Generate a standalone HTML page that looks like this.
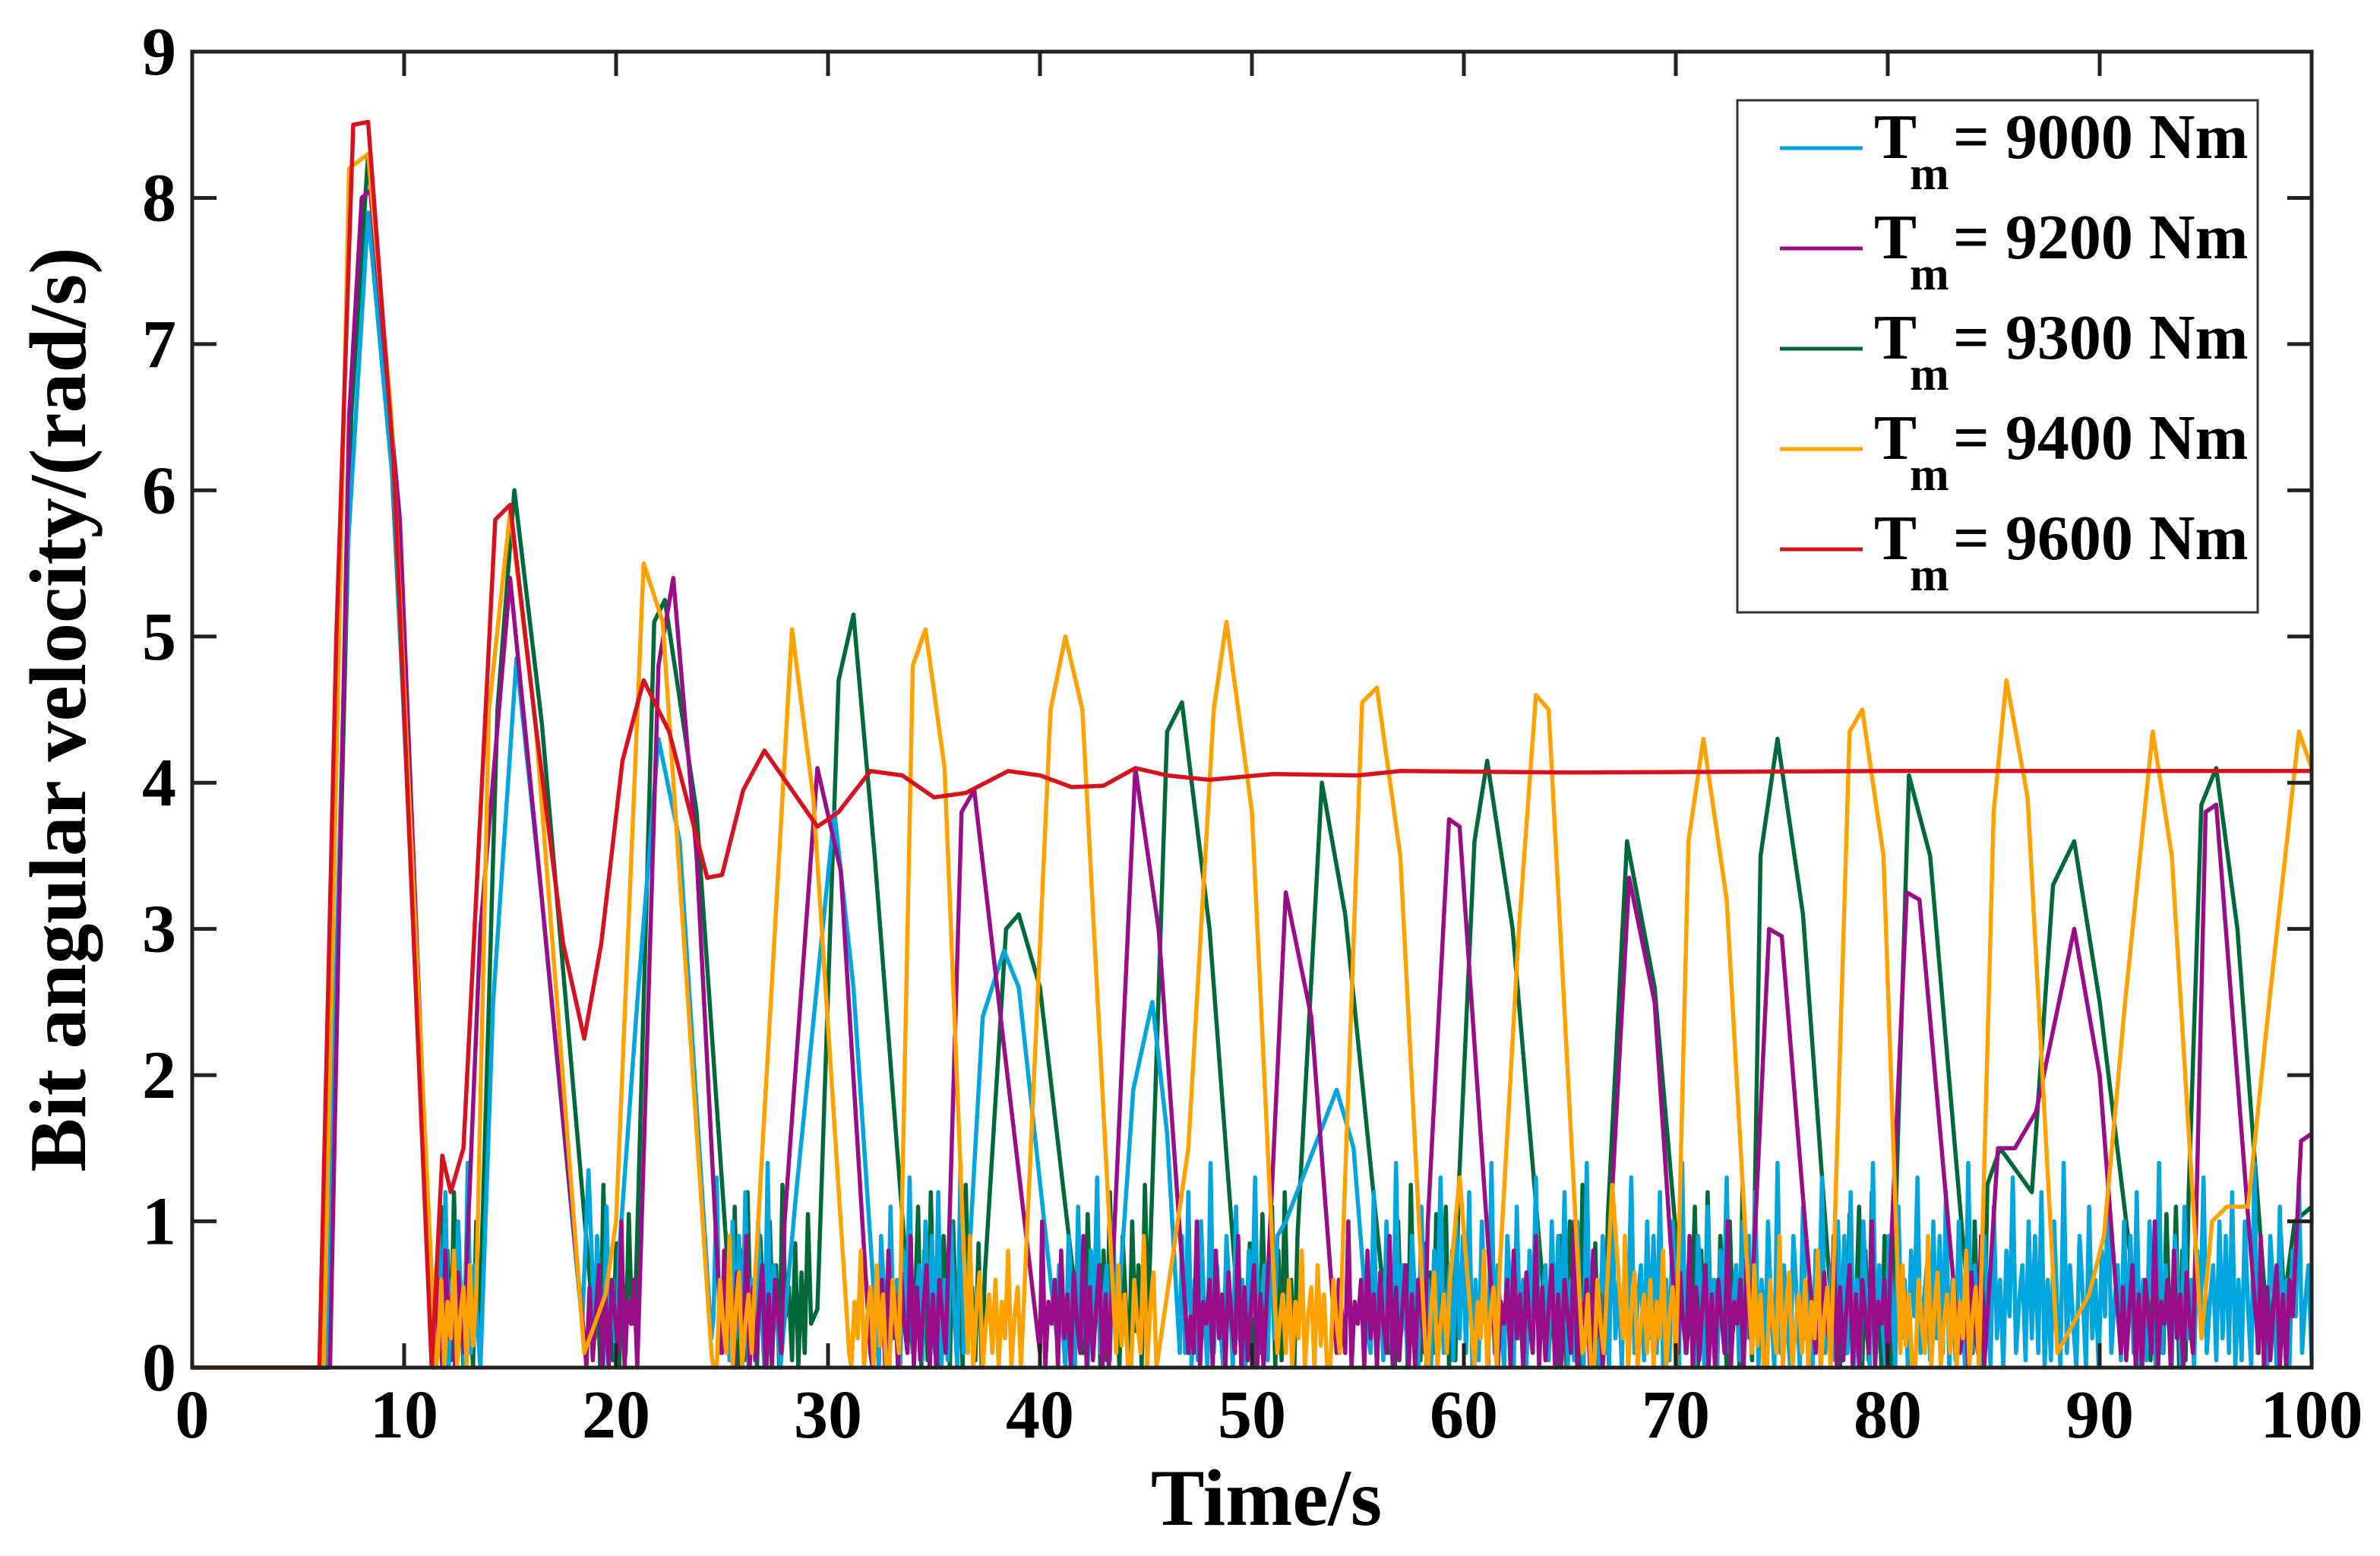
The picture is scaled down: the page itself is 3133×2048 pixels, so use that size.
<!DOCTYPE html>
<html><head><meta charset="utf-8"><style>
html,body{margin:0;padding:0;background:#fff;}
svg{display:block;}
text{font-family:"Liberation Serif",serif;font-weight:bold;fill:#000;}
</style></head><body>
<svg id="chart" width="3133" height="2048" viewBox="0 0 3133 2048" xmlns="http://www.w3.org/2000/svg">
<rect x="0" y="0" width="3133" height="2048" fill="#fff"/>
<g id="series"></g>
<g id="axes"></g>
<g id="legend"></g>
</svg>
<script>
// ---- data ----
const xTicks = [0,10,20,30,40,50,60,70,80,90,100];
const yTicks = [0,1,2,3,4,5,6,7,8,9];
const seriesLabels = ["9000","9200","9300","9400","9600"];
const seriesColors = ["#00a6dd","#9a0d88","#00693a","#ffa200","#d8111f"];
// breakpoints [t, value]; "N" segments are filled from that series' noise array
const cyanPts = [[0,0],[6.3,0],[7.3,5.5],[8.3,7.9],[9.5,6.0],[11.4,0],"N11.5-13.6",[14.2,2.5],[15.3,4.85],[16.5,3.2],[18.4,0.3],[18.7,1.35],[19.0,0.2],"N19.1-20.2",[21.0,2.5],[22.0,4.3],[23.0,3.6],[24.5,0.2],"N24.6-27.8",[28.5,1.2],[30.3,3.8],[31.2,2.6],[32.4,0],"N32.5-36.4",[37.3,2.4],[38.3,2.85],[39.0,2.6],[40.8,0.2],"N40.9-43.6",[44.4,1.9],[45.3,2.5],[46.0,1.6],[46.6,0.1],"N46.7-51.2",[51.6,1.0],[54.0,1.9],[54.8,1.5],[55.5,0.2],"N55.6-100"];
const magentaPts = [[0,0],[6.5,0],[7.4,6.5],[8.0,8.0],[8.4,8.05],[9.8,5.8],[11.4,0],"N11.5-13.0",[13.6,3.0],[15.0,5.4],[16.3,3.5],[18.5,0.2],"N18.6-21.0",[22.0,4.8],[22.7,5.4],[23.8,3.5],[25.0,0.1],"N25.1-28.0",[29.5,4.1],[30.6,3.4],[32.0,0.1],"N32.1-35.6",[36.3,3.8],[36.9,3.95],[38.3,2.2],[40.0,0.1],"N40.1-43.4",[44.5,4.1],[45.6,3.0],[47.0,0.1],"N47.1-50.6",[51.6,3.25],[52.8,2.4],[54.0,0.1],"N54.1-58.4",[59.3,3.75],[59.8,3.7],[61.5,0.1],"N61.6-66.6",[67.8,3.35],[69.0,2.5],[70.1,0.1],"N70.2-73.6",[74.4,3.0],[75.0,2.95],[76.6,0.1],"N76.7-80.2",[80.9,3.25],[81.5,3.2],[83.4,0.1],"N83.5-84.6",[85.2,1.5],[86.0,1.5],[87.0,1.75],[88.8,3.0],[90.0,2.0],[91.0,0.1],"N91.1-94.4",[95.0,3.8],[95.5,3.85],[97.5,0.1],"N97.6-99.2",[99.5,1.55],[100,1.6]];
const greenPts = [[0,0],[6.4,0],[7.5,6.5],[8.3,8.3],[9.3,6.5],[11.5,0],"N11.6-13.6",[14.4,4.5],[15.2,6.0],[16.5,4.4],[19.0,0.2],"N19.1-21.0",[21.8,5.1],[22.3,5.25],[23.8,3.8],[25.5,0.2],"N25.6-29.2",[29.5,0.4],[30.5,4.7],[31.2,5.15],[32.2,3.5],[34.0,0.1],"N34.1-37.4",[38.4,3.0],[39.0,3.1],[40.0,2.6],[42.0,0.1],"N42.1-45.2",[46.0,4.35],[46.7,4.55],[48.0,3.0],[49.5,0.1],"N49.6-52.2",[53.3,4.0],[54.4,3.1],[56.5,0.1],"N56.6-59.8",[60.5,3.6],[61.1,4.15],[62.3,3.0],[64.0,0.1],"N64.1-66.8",[67.7,3.6],[69.0,2.6],[70.5,0.1],"N70.6-73.6",[74.0,3.5],[74.8,4.3],[76.0,3.1],[77.5,0.1],"N77.6-80.2",[81.0,4.05],[82.0,3.5],[84.0,0.1],"N84.1-84.8",[85.3,1.5],[86.8,1.2],[87.8,3.3],[88.8,3.6],[90.0,2.5],[92.0,0.1],"N92.1-94.2",[94.8,3.85],[95.5,4.1],[96.5,3.0],[98.0,0.1],"N98.1-98.8",[99.2,1.0],[100,1.1]];
const orangePts = [[0,0],[6.2,0],[7.4,8.2],[8.3,8.3],[9.4,6.5],[11.5,0],"N11.6-13.4",[14.0,4.5],[15.0,5.85],[16.2,4.4],[18.5,0.1],[19.5,0.5],[20.0,1.0],[21.3,5.5],[22.2,5.1],[24.5,0.1],"N24.6-26.6",[27.3,2.5],[28.3,5.05],[29.3,3.9],[31.0,0.1],"N31.1-33.4",[34.0,4.8],[34.6,5.05],[35.5,4.1],[36.6,0.1],"N36.7-39.2",[40.5,4.5],[41.2,5.0],[42.0,4.5],[43.6,0.1],"N43.7-45.6",[46.0,0.5],[47.0,1.5],[48.2,4.5],[48.8,5.1],[50.0,3.8],[51.2,0.1],"N51.3-54.4",[55.2,4.55],[55.9,4.65],[57.0,3.5],[58.2,0.1],"N58.3-59.4",[59.8,1.3],[60.4,0.2],"N60.5-61.8",[62.6,3.0],[63.4,4.6],[64.0,4.5],[65.6,0.1],"N65.7-66.6",[67.0,1.25],[67.5,0.2],"N67.6-70.0",[70.6,3.6],[71.3,4.3],[72.4,3.2],[73.6,0.1],"N73.7-77.4",[78.2,4.35],[78.8,4.5],[79.8,3.5],[80.6,0.1],"N80.7-84.4",[85.0,3.8],[85.6,4.7],[86.6,3.9],[88.0,0.1],[89.5,0.5],[90.2,0.9],[91.2,2.5],[92.5,4.35],[93.4,3.5],[94.8,0.2],[95.3,1.0],[96.0,1.1],[97.0,1.1],[98.0,2.5],[99.4,4.35],[100,4.1]];
const redPts = [[0,0],[6.0,0],[6.8,5.0],[7.6,8.5],[8.3,8.52],[9.5,6.2],[11.3,0],[11.8,1.45],[12.2,1.2],[12.8,1.5],[14.3,5.8],[15.0,5.9],[16.2,4.4],[17.5,2.9],[18.5,2.25],[19.3,2.9],[20.3,4.15],[21.3,4.7],[22.5,4.35],[24.3,3.35],[25.0,3.37],[26.0,3.95],[27.0,4.22],[29.5,3.7],[30.5,3.8],[32.0,4.08],[33.5,4.05],[35.0,3.9],[36.5,3.93],[38.5,4.08],[40.0,4.05],[41.5,3.97],[43.0,3.98],[44.5,4.1],[46.0,4.05],[48.0,4.02],[51.0,4.06],[55.0,4.05],[57.0,4.08],[65.0,4.07],[80.0,4.08],[100,4.08]];
const cyanNoise = [0.2,0.9,0.1,1.2,0.0,0.6,0.05,1.0,0.4,0.0,1.4,0.1,0.7,0.3,0.0,0.9,0.5,0.0,1.1,0.2,0.6,0.0,0.8,0.35,1.3,0.1,0.45,0.7,0.05,1.0];
const magentaNoise = [0.3,0.6,0.0,0.8,0.2,0.5,0.0,0.65,0.3,0.1,0.9,0.0,0.55,0.05,0.4,0.7,0.0,0.5,0.0,0.6,0.35,0.1,1.0,0.0,0.45];
const greenNoise = [0.4,1.1,0.0,0.8,0.05,1.2,0.3,0.6,0.0,0.9,0.45,0.0,1.0,0.25,0.7,0.0,1.25,0.35,0.55,0.05,0.85,0.0,0.65,0.1,1.05,0.3];
const orangeNoise = [0.1,0.6,0.0,0.45,0.2,0.8,0.0,0.35,0.55,0.0,0.7,0.15,0.5,0.0,0.0,0.6,0.3,0.1,0.9,0.0,0.4,0.65,0.0,0.3,0.5];

const allPts = [cyanPts, magentaPts, greenPts, orangePts, redPts];
const allNoise = [cyanNoise, magentaNoise, greenNoise, orangeNoise, []];
const drawOrder = [2,0,1,3,4];

// ---- axis functions ----
const PX0=253, PX1=3043, PY0=1800, PY1=68;
const xs = t => PX0 + (t-0)/(100-0)*(PX1-PX0);
const ys = v => PY0 - (v-0)/(9-0)*(PY0-PY1);
const NS="http://www.w3.org/2000/svg";
function mk(tag, attrs){ const e=document.createElementNS(NS,tag); for(const k in attrs) e.setAttribute(k, attrs[k]); return e; }

function expand(pts, noise){
  const out=[]; let ni=0;
  for(const p of pts){
    if(typeof p==="string"){
      const [a,b]=p.slice(1).split("-").map(Number);
      for(let t=a;t<=b+1e-9;t+=0.15){ out.push([t, noise[ni%noise.length]]); ni++; }
    } else out.push(p);
  }
  return out;
}

const gS=document.getElementById("series");
drawOrder.forEach(i=>{
  const pts=expand(allPts[i], allNoise[i]);
  const d=pts.map((p,k)=>(k?"L":"M")+xs(p[0]).toFixed(1)+","+ys(p[1]).toFixed(1)).join("");
  const path=mk("path",{d:d,fill:"none",stroke:seriesColors[i],"stroke-width":5.5,"stroke-linejoin":"round"});
  
  
  gS.appendChild(path);
});

// axes
const gA=document.getElementById("axes");
const frame=mk("rect",{x:PX0,y:PY1,width:PX1-PX0,height:PY0-PY1,fill:"none",stroke:"#222","stroke-width":5});


gA.appendChild(frame);
xTicks.forEach(t=>{
  const x=xs(t);
  const tk=mk("path",{d:`M${x},${PY0}v-32M${x},${PY1}v32`,stroke:"#222","stroke-width":5});
  
  
  gA.appendChild(tk);
  const lb=mk("text",{x:x,y:1892,"text-anchor":"middle","font-size":90});
  lb.textContent=t;
  
  
  gA.appendChild(lb);
});
yTicks.forEach(v=>{
  const y=ys(v);
  const tk=mk("path",{d:`M${PX0},${y}h32M${PX1},${y}h-32`,stroke:"#222","stroke-width":5});
  
  
  gA.appendChild(tk);
  const lb=mk("text",{x:232,y:y+30,"text-anchor":"end","font-size":90});
  lb.textContent=v;
  
  
  gA.appendChild(lb);
});
const xt=mk("text",{x:1667,y:2007,"text-anchor":"middle","font-size":106});
xt.textContent="Time/s";


gA.appendChild(xt);
const yt=mk("text",{x:0,y:0,"text-anchor":"middle","font-size":106,transform:"translate(112,934) rotate(-90)"});
yt.textContent="Bit angular velocity/(rad/s)";


gA.appendChild(yt);

// legend
const gL=document.getElementById("legend");
const lbox=mk("rect",{x:2287,y:132,width:685,height:674,fill:"#fff",stroke:"#333","stroke-width":3});


gL.appendChild(lbox);
seriesLabels.forEach((lab,i)=>{
  const y=195+i*132;
  const ln=mk("line",{x1:2343,x2:2452,y1:y,y2:y,stroke:seriesColors[i],"stroke-width":5});
  
  
  gL.appendChild(ln);
  const t1=mk("text",{x:2467,y:y+13,"font-size":84});
  t1.textContent="T";
  
  
  gL.appendChild(t1);
  const t2=mk("text",{x:2514,y:y+54,"font-size":62});
  t2.textContent="m";
  
  
  gL.appendChild(t2);
  const t3=mk("text",{x:2571,y:y+13,"font-size":84});
  t3.textContent="= "+lab+" Nm";
  
  
  gL.appendChild(t3);
});
</script>
</body></html>
